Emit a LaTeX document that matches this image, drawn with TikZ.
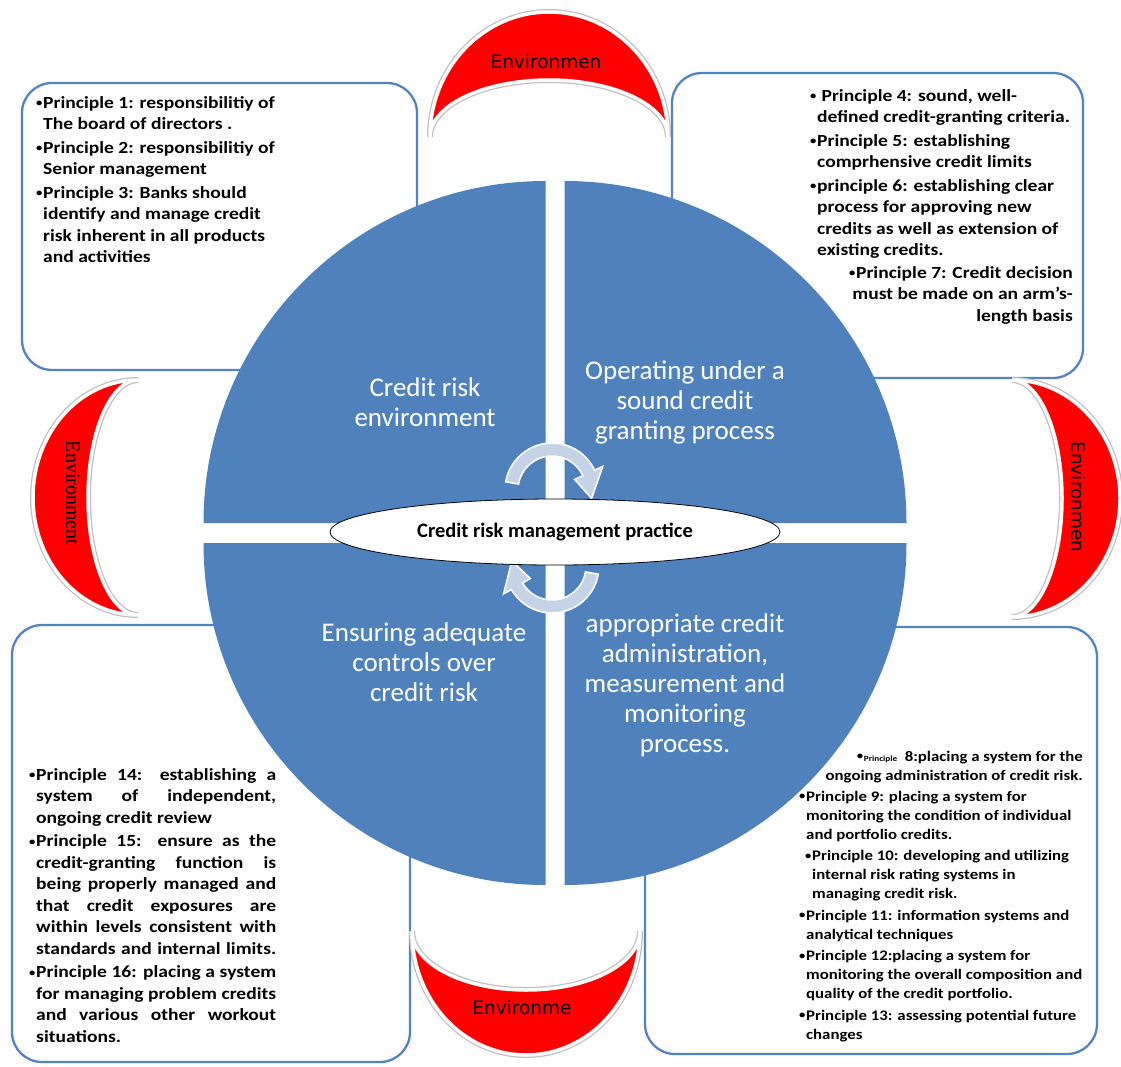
\documentclass[tikz,border=0pt]{standalone}
\usepackage{fontspec}
\setmainfont{Carlito}
\newfontfamily\boxfont[FakeStretch=1.15]{Carlito}
\newfontfamily\moonsans{DejaVu Sans}
\newfontfamily\moonserif{Liberation Serif}
\usetikzlibrary{calc, shapes.geometric}
\definecolor{qblue}{RGB}{79,129,189}
\definecolor{frameblue}{RGB}{84,130,194}
\definecolor{moonred}{RGB}{255,0,0}
\definecolor{turnblue}{RGB}{198,211,231}
\newcommand{\bul}{\makebox[7pt][l]{\raisebox{1.6pt}{\fontsize{11}{11}\selectfont\textbullet}}}
\newcommand{\ind}{\hspace*{7pt}}
\newcommand{\jline}[1]{\makebox[240pt][s]{#1}}

\begin{document}
\begin{tikzpicture}[x=1pt, y=-1pt,
    frame/.style={draw=frameblue, line width=2.3pt, rounded corners=30pt, fill=white},
    quarter/.style={fill=qblue},
    moon/.style={fill=moonred, draw=white, line width=3.5pt, preaction={draw=gray!50, line width=6pt}},
    moonlabel/.style={text=black, font=\moonsans\fontsize{18.5}{20}\selectfont},
    quartertext/.style={text=white, align=center, font=\fontsize{27}{30}\selectfont},
    principles/.style={align=left, inner sep=0pt, font=\boxfont\bfseries\fontsize{17}{21.5}\selectfont},
    smallprinciples/.style={principles, font=\boxfont\bfseries\fontsize{14.6}{18.8}\selectfont},
    turn/.style={fill=turnblue, draw=white, line width=1.5pt}]
  \path[use as bounding box, fill=white] (0,0) rectangle (1121,1066);

  % boxes
  \draw[frame] (22,83) rectangle (417,370);
  \draw[frame] (672,73) rectangle (1083,378);
  \draw[frame] (12,625) rectangle (410,1062);
  \draw[frame] (645,627) rectangle (1097,1054);

  % crescents
  \draw[moon] (430,137) .. controls (430,68) and (483.3,12) .. (549,12)
    .. controls (614.7,12) and (668,68) .. (668,137)
    .. controls (668,105.5) and (614.7,80) .. (549,80)
    .. controls (483.3,80) and (430,105.5) .. (430,137) -- cycle;
  \draw[moon] (138,380) .. controls (80,380) and (33,432.6) .. (33,497.5)
    .. controls (33,562.4) and (80,615) .. (138,615)
    .. controls (110.4,615) and (88,562.4) .. (88,497.5)
    .. controls (88,432.6) and (110.4,380) .. (138,380) -- cycle;
  \draw[moon] (1012,380) .. controls (1071.6,380) and (1120,433.1) .. (1120,498.5)
    .. controls (1120,563.9) and (1071.6,617) .. (1012,617)
    .. controls (1039.6,617) and (1062,563.9) .. (1062,498.5)
    .. controls (1062,433.1) and (1039.6,380) .. (1012,380) -- cycle;
  \draw[moon] (412,931) .. controls (412,999.5) and (463,1055) .. (526,1055)
    .. controls (589,1055) and (640,999.5) .. (640,931)
    .. controls (640,963.6) and (589,990) .. (526,990)
    .. controls (463,990) and (412,963.6) .. (412,931) -- cycle;
  \node[moonlabel] (envtop) at (546,62) {Environmen};
  \node[moonlabel, rotate=-90] (envright) at (1078,497) {Environmen};
  \node[moonlabel] (envbottom) at (522,1008) {Environme};
  \node[moonlabel, font=\moonserif\fontsize{20}{22}\selectfont, rotate=-90] (envleft) at (73,493) {Environment};

  % circle
  \fill[quarter] (545.5,523) -- ++(180:342) arc[start angle=180, end angle=270, radius=342] -- cycle;
  \fill[quarter] (564.5,523) -- ++(270:342) arc[start angle=270, end angle=360, radius=342] -- cycle;
  \fill[quarter] (564.5,543) -- ++(0:342) arc[start angle=0, end angle=90, radius=342] -- cycle;
  \fill[quarter] (545.5,543) -- ++(90:342) arc[start angle=90, end angle=180, radius=342] -- cycle;
  \node[quartertext] (env) at (425,402) {Credit risk\\environment};
  \node[quartertext] (grant) at (685,402) {Operating under a\\sound credit\\granting process};
  \node[quartertext] (ctrl) at (424,662) {Ensuring adequate\\controls over\\credit risk};
  \node[quartertext] (admin) at (685,685) {appropriate credit\\administration,\\measurement and\\monitoring\\process.};

  \coordinate (tc) at (552,490);
  \coordinate (bc) at (552,566);
  \filldraw[turn] ($(tc)+(-170:47)$) arc[start angle=-170, end angle=-25, radius=47]
    -- ($(tc)+(-25:56)$) -- ($(tc)+(12:40.5)$) -- ($(tc)+(-25:25)$) -- ($(tc)+(-25:34)$)
    arc[start angle=-25, end angle=-170, radius=34] -- cycle;
  \filldraw[turn] ($(bc)+(10:47)$) arc[start angle=10, end angle=150, radius=47]
    -- ($(bc)+(150:56)$) -- ($(bc)+(187:40.5)$) -- ($(bc)+(150:25)$) -- ($(bc)+(150:34)$)
    arc[start angle=150, end angle=10, radius=34] -- cycle;

  \node[draw, ellipse, fill=white, line width=0.8pt, minimum width=450pt, minimum height=66pt,
    inner sep=0pt, font=\bfseries\fontsize{20.5}{22}\selectfont] (practice) at (555,532)
    {Credit risk management practice};

  % principles
  \node[principles, anchor=north west] (p13) at (36,96) {%
    \bul Principle 1: responsibilitiy of\\
    \ind The board of directors .\\[2pt]
    \bul Principle 2: responsibilitiy of\\
    \ind Senior management\\[2pt]
    \bul Principle 3: Banks should\\
    \ind identify and manage credit\\
    \ind risk inherent in all products\\
    \ind and activities};
  \node[principles, anchor=north west] (p46) at (810,89) {%
    \bul\ Principle 4: sound, well-\\
    \ind defined credit-granting criteria.\\[2pt]
    \bul Principle 5: establishing\\
    \ind comprhensive credit limits\\[2pt]
    \bul principle 6: establishing clear\\
    \ind process for approving new\\
    \ind credits as well as extension of\\
    \ind existing credits.};
  \node[principles, align=right, anchor=north east] (p7) at (1073,266) {%
    \bul Principle 7: Credit decision\\
    must be made on an arm’s-\\
    length basis};
  \node[principles, anchor=north west] (p1416) at (29,768) {%
    \bul\jline{Principle 14: establishing a}\\
    \ind\jline{system of independent,}\\
    \ind ongoing credit review\\[2pt]
    \bul\jline{Principle 15: ensure as the}\\
    \ind\jline{credit-granting function is}\\
    \ind\jline{being properly managed and}\\
    \ind\jline{that credit exposures are}\\
    \ind\jline{within levels consistent with}\\
    \ind\jline{standards and internal limits.}\\[2pt]
    \bul\jline{Principle 16: placing a system}\\
    \ind\jline{for managing problem credits}\\
    \ind\jline{and various other workout}\\
    \ind situations.};
  \node[smallprinciples, align=right, anchor=north east] (p8) at (1083,751) {%
    \bul{\fontsize{8}{8}\selectfont Principle}\ \ 8:placing a system for the\\
    ongoing administration of credit risk.};
  \node[smallprinciples, anchor=north west] (p913) at (799,791) {%
    \bul Principle 9: placing a system for\\
    \ind monitoring the condition of individual\\
    \ind and portfolio credits.\\[3pt]
    \hspace*{6pt}\bul Principle 10: developing and utilizing\\
    \hspace*{6pt}\ind internal risk rating systems in\\
    \hspace*{6pt}\ind managing credit risk.\\[3pt]
    \bul Principle 11: information systems and\\
    \ind analytical techniques\\[3pt]
    \bul Principle 12:placing a system for\\
    \ind monitoring the overall composition and\\
    \ind quality of the credit portfolio.\\[3pt]
    \bul Principle 13: assessing potential future\\
    \ind changes};
\end{tikzpicture}
\end{document}
